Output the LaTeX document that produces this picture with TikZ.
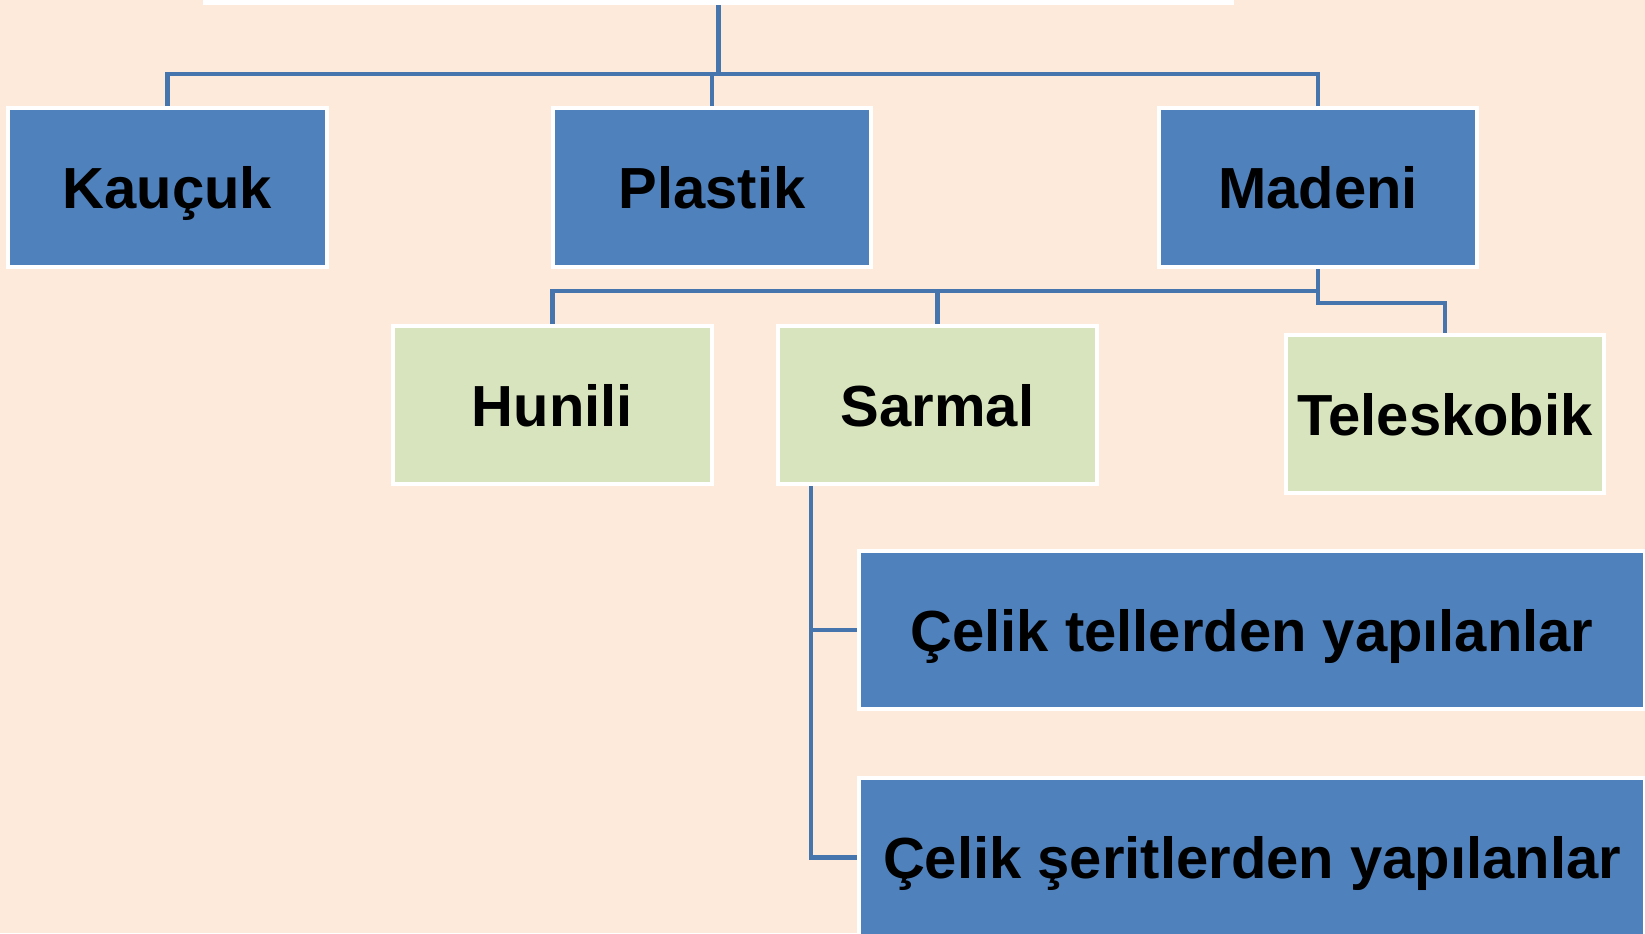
\documentclass[tikz,border=0pt]{standalone}
\usepackage{fontspec}
\setmainfont{Liberation Sans}
\usetikzlibrary{backgrounds}
\definecolor{peach}{RGB}{253,234,218}
\definecolor{boxblue}{RGB}{79,129,189}
\definecolor{boxgreen}{RGB}{215,228,189}
\definecolor{linkblue}{RGB}{70,116,172}
\begin{document}
\begin{tikzpicture}[x=0.02cm,y=-0.02cm,
    box/.style={draw=white,line width=0.08cm,minimum width=6.38cm,minimum height=3.18cm,inner sep=0pt,
        text depth=0pt,font=\fontsize{33}{40}\selectfont\bfseries},
    bluebox/.style={box,fill=boxblue},
    greenbox/.style={box,fill=boxgreen},
    conn/.style={draw=linkblue,line width=0.09cm}]
        \useasboundingbox (0,0) rectangle (1645,933);
        \node[box,fill=white,minimum width=20.54cm,minimum height=3cm] (root) at (718.5,-72) {};
        \node[bluebox] (kaucuk) at (167.5,187.5) {Kauçuk};
        \node[bluebox] (plastik) at (712,187.5) {Plastik};
        \node[bluebox] (madeni) at (1318,187.5) {Madeni};
        \node[greenbox] (hunili) at (552.5,405) {Hunili};
        \node[greenbox] (sarmal) at (937.5,405) {Sarmal};
        \node[greenbox,minimum width=6.36cm] (teleskobik) at (1445,414) {Teleskobik};
        \node[bluebox,minimum width=15.72cm] (teller) at (1252,630) {Çelik tellerden yapılanlar};
        \node[bluebox,minimum width=15.72cm] (serit) at (1252,857.5) {Çelik şeritlerden yapılanlar};
        \begin{scope}[on background layer]
        \fill[peach] (0,0) rectangle (1645,933);
        \coordinate (bus1) at (718.5,74);
        \coordinate (bus2) at (1318,291);
        \coordinate (stem) at (811,484);
        \draw[conn] (root.south) -- (bus1);
        \draw[conn] (kaucuk.north) |- (bus1) -| (madeni.north);
        \draw[conn] (plastik.north) -- (plastik.north |- bus1);
        \draw[conn] (madeni.south) -- (bus2) -| (hunili.north);
        \draw[conn] (sarmal.north) -- (sarmal.north |- bus2);
        \draw[conn] (madeni.south) -- ++(0,34) -| (teleskobik.north);
        \draw[conn] (stem) |- (teller.west);
        \draw[conn] (stem) |- (serit.west);
        \end{scope}
    \end{tikzpicture}
\end{document}
